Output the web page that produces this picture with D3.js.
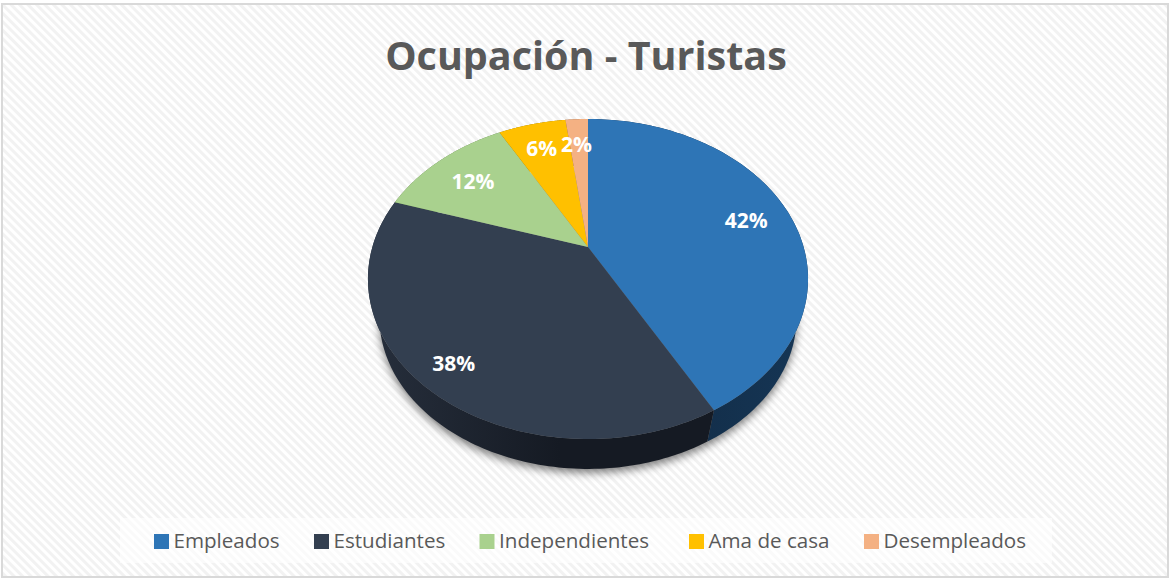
<!DOCTYPE html>
<html>
<head>
<meta charset="utf-8">
<script src="https://cdn.jsdelivr.net/npm/d3@7"></script>
<style>
  html, body { margin: 0; padding: 0; background: #fff; }
  svg { display: block; }
  text { font-family: "Open Sans", sans-serif; }
</style>
</head>
<body>
<div id="chart"></div>
<script>
// chart data
const categories = ["Empleados", "Estudiantes", "Independientes", "Ama de casa", "Desempleados"];
const shares = [42, 38, 12, 6, 2];
const topColors = ["#2E75B6", "#333F50", "#A9D18E", "#FFC000", "#F4B183"];
const sideColors = ["#132F4B", "#151A23", "#5A7A45", "#8A6800", "#8A5F42"];
const legendX = [154, 314, 479.5, 689, 864];

const width = 1170, height = 579;
const svg = d3.select("#chart").append("svg").attr("width", width).attr("height", height);
const defs = svg.append("defs");

// background stripes, running down to the right
const pattern = defs.append("pattern")
    .attr("id", "stripes")
    .attr("width", 6).attr("height", 6)
    .attr("patternUnits", "userSpaceOnUse")
    .attr("patternTransform", "rotate(45)");
pattern.append("rect").attr("width", 6).attr("height", 6).attr("fill", "#fff");
pattern.append("rect").attr("width", 6).attr("height", 3).attr("fill", "#f2f2f2");

svg.append("rect").attr("width", width).attr("height", height).attr("fill", "#fff");
svg.append("rect")
    .attr("x", 2).attr("y", 4).attr("width", width - 4).attr("height", height - 6)
    .attr("fill", "url(#stripes)")
    .attr("stroke", "#d9d9d9").attr("stroke-width", 2);

svg.append("text")
    .attr("x", 586).attr("y", 69.5)
    .attr("text-anchor", "middle")
    .attr("font-size", 39.5).attr("font-weight", 700)
    .attr("fill", "#595959")
    .text("Ocupación - Turistas");

// perspective: unit circle -> screen, the centre sits above the ellipse centre
const cx = 588, cy = 247, k = 215.6, a = 104.2, c = -0.2;
const vanishY = 1014, depthScale = 0.948;

function projectTop(angle) {
    const u = Math.sin(angle), v = -Math.cos(angle);
    const w = 1 + c * v;
    return [cx + k * u / w, (a * v + cy) / w];
}
function projectBottom(angle) {
    const p = projectTop(angle);
    return [cx + (p[0] - cx) * depthScale, vanishY + (p[1] - vanishY) * depthScale];
}
function arcAngles(d) {
    return d3.range(0, 121).map(i => d.startAngle + (d.endAngle - d.startAngle) * i / 120);
}

const line = d3.line();
const pie = d3.pie().sort(null).value(d => d);
const slices = pie(shares);
const fullCircle = d3.range(0, 361).map(i => i * Math.PI / 180);

// soft shadow under the disc
const blur = defs.append("filter")
    .attr("id", "soft")
    .attr("x", "-20%").attr("y", "-20%").attr("width", "140%").attr("height", "140%");
blur.append("feGaussianBlur").attr("stdDeviation", 4);
svg.append("path")
    .attr("d", line(fullCircle.map(projectBottom)) + "Z")
    .attr("transform", "translate(0,4)")
    .attr("fill", "#000").attr("fill-opacity", 0.5)
    .attr("filter", "url(#soft)");

// side walls
const gradBlue = defs.append("linearGradient").attr("id", "side0").attr("gradientUnits", "userSpaceOnUse")
    .attr("x1", 700).attr("x2", 800).attr("y1", 0).attr("y2", 0);
gradBlue.append("stop").attr("offset", 0).attr("stop-color", sideColors[0]);
gradBlue.append("stop").attr("offset", 1).attr("stop-color", "#153554");
const gradDark = defs.append("linearGradient").attr("id", "side1").attr("gradientUnits", "userSpaceOnUse")
    .attr("x1", 385).attr("x2", 560).attr("y1", 0).attr("y2", 0);
gradDark.append("stop").attr("offset", 0).attr("stop-color", "#252D3A");
gradDark.append("stop").attr("offset", 1).attr("stop-color", sideColors[1]);

svg.append("g").selectAll("path")
    .data(slices)
    .join("path")
    .attr("d", d => {
        const ang = arcAngles(d);
        return line(ang.map(projectTop).concat(ang.slice().reverse().map(projectBottom))) + "Z";
    })
    .attr("fill", (d, i) => i < 2 ? `url(#side${i})` : sideColors[i]);

// top face
svg.append("g").selectAll("path")
    .data(slices)
    .join("path")
    .attr("d", d => line([[cx, cy]].concat(arcAngles(d).map(projectTop))) + "Z")
    .attr("fill", (d, i) => topColors[i]);

// value labels, along the radius of each slice then nudged by hand
const labelRadius = [0.72, 0.72, 0.73, 0.82, 0.82];
const labelNudge = [[13, 0], [-23, 21], [-4, 0], [1, 5], [-2, 5]];
svg.append("g").selectAll("text")
    .data(slices)
    .join("text")
    .attr("transform", (d, i) => {
        const mid = (d.startAngle + d.endAngle) / 2;
        const r = labelRadius[i];
        const u = r * Math.sin(mid), v = -r * Math.cos(mid);
        const w = 1 + c * v;
        return `translate(${cx + k * u / w + labelNudge[i][0]},${(a * v + cy) / w + labelNudge[i][1]})`;
    })
    .attr("text-anchor", "middle")
    .attr("dy", "0.36em")
    .attr("font-size", 21).attr("font-weight", 700)
    .attr("fill", "#fff")
    .text(d => d.data + "%");

// legend
svg.append("rect")
    .attr("x", 120).attr("y", 518).attr("width", 932).attr("height", 45)
    .attr("fill", "#fff").attr("fill-opacity", 0.6);
const legend = svg.append("g").selectAll("g")
    .data(categories)
    .join("g")
    .attr("transform", (d, i) => `translate(${legendX[i]},534)`);
legend.append("rect").attr("width", 15).attr("height", 15).attr("fill", (d, i) => topColors[i]);
legend.append("text")
    .attr("x", 19.5).attr("y", 14)
    .attr("font-size", 20.6)
    .attr("fill", "#595959")
    .text(d => d);
</script>
</body>
</html>
